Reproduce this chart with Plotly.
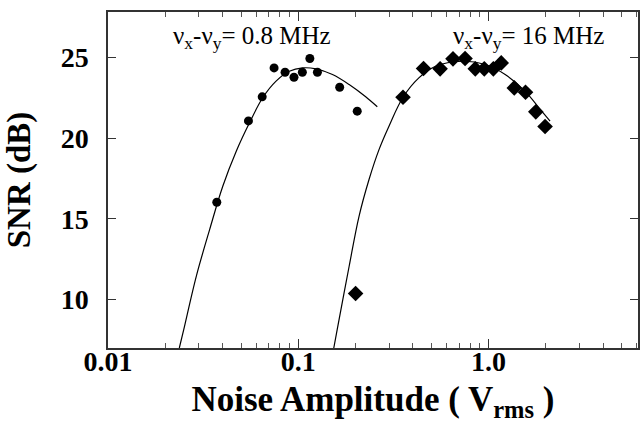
import plotly.graph_objects as go

# ---- data ----
# nu_x - nu_y = 0.8 MHz (circles)
amp_08 = [0.0373, 0.0547, 0.0646, 0.0746, 0.0852, 0.0949, 0.105, 0.115, 0.126, 0.165, 0.204]
snr_08 = [16.02, 21.06, 22.55, 24.34, 24.07, 23.76, 24.07, 24.92, 24.07, 23.14, 21.66]
# fitted curve for 0.8 MHz
fit_amp_08 = [0.0237, 0.0250, 0.0291, 0.0342, 0.0401, 0.0472, 0.0554, 0.0650, 0.0764,
              0.0897, 0.1054, 0.1238, 0.1512, 0.185, 0.226, 0.260]
fit_snr_08 = [7.0, 8.14, 11.44, 14.33, 17.01, 19.18, 20.94, 22.49, 23.52,
              24.13, 24.34, 24.28, 23.93, 23.31, 22.55, 21.93]

# nu_x - nu_y = 16 MHz (diamonds)
amp_16 = [0.200, 0.355, 0.455, 0.556, 0.650, 0.752, 0.851, 0.949, 1.059, 1.165,
          1.364, 1.563, 1.77, 1.98]
snr_16 = [10.37, 22.52, 24.30, 24.28, 24.90, 24.92, 24.28, 24.28, 24.28, 24.65,
          23.10, 22.83, 21.62, 20.71]
fit_amp_16 = [0.1536, 0.1607, 0.185, 0.2085, 0.2353, 0.2655, 0.2995, 0.355, 0.430,
              0.526, 0.725, 0.961, 1.222, 1.556, 1.901, 2.104]
fit_snr_16 = [7.0, 8.24, 12.06, 15.15, 17.43, 19.28, 20.73, 22.52, 23.72,
              24.44, 24.75, 24.55, 23.93, 22.89, 21.66, 21.04]

x_major_vals = [0.01, 0.1, 1.0]
x_major_text = ["0.01", "0.1", "1.0"]
x_minor_vals = [0.02, 0.03, 0.04, 0.05, 0.06, 0.07, 0.08, 0.09,
                0.2, 0.3, 0.4, 0.5, 0.6, 0.7, 0.8, 0.9,
                2, 3, 4, 5, 6]
y_tick_vals = [10, 15, 20, 25]

label_08 = "ν<sub>x</sub>-ν<sub>y</sub>= 0.8 MHz"
label_16 = "ν<sub>x</sub>-ν<sub>y</sub>= 16 MHz"

SERIF = "Liberation Serif"

fig = go.Figure()
fig.add_trace(go.Scatter(x=fit_amp_08, y=fit_snr_08, mode="lines",
                         line=dict(color="black", width=1.2, shape="spline", smoothing=1.0),
                         showlegend=False, hoverinfo="skip"))
fig.add_trace(go.Scatter(x=fit_amp_16, y=fit_snr_16, mode="lines",
                         line=dict(color="black", width=1.2, shape="spline", smoothing=1.0),
                         showlegend=False, hoverinfo="skip"))
fig.add_trace(go.Scatter(x=amp_08, y=snr_08, mode="markers",
                         marker=dict(symbol="circle", size=9, color="black"),
                         showlegend=False))
fig.add_trace(go.Scatter(x=amp_16, y=snr_16, mode="markers",
                         marker=dict(symbol="diamond", size=12, color="black"),
                         showlegend=False))

fig.add_annotation(text=label_08, xref="paper", yref="paper", x=0.272, y=0.925,
                   showarrow=False, xanchor="center", yanchor="middle",
                   font=dict(family=SERIF, size=25, color="black"))
fig.add_annotation(text=label_16, xref="paper", yref="paper", x=0.794, y=0.925,
                   showarrow=False, xanchor="center", yanchor="middle",
                   font=dict(family=SERIF, size=25, color="black"))

fig.update_layout(
    width=642, height=423,
    margin=dict(l=108, r=2, t=12, b=75),
    paper_bgcolor="white", plot_bgcolor="white",
    font=dict(family=SERIF, color="black"),
)
fig.update_xaxes(
    type="log", range=[-2, 0.785],
    tickmode="array", tickvals=x_major_vals, ticktext=x_major_text,
    ticks="inside", ticklen=9, tickwidth=1.2, tickcolor="#333",
    minor=dict(tickmode="array", tickvals=x_minor_vals, ticks="inside",
               ticklen=5, tickwidth=1, tickcolor="#555", showgrid=False),
    showline=True, linecolor="#333", linewidth=1.5, mirror="ticks",
    showgrid=False, zeroline=False,
    tickfont=dict(family=SERIF, size=28, weight="bold", color="black"),
    ticklabelstandoff=-12,
    title=dict(text="Noise Amplitude ( V<sub>rms</sub> )", standoff=12,
               font=dict(family=SERIF, size=35, weight="bold", color="black")),
)
fig.update_yaxes(
    range=[7, 27.8],
    tickmode="array", tickvals=y_tick_vals,
    ticks="inside", ticklen=8, tickwidth=1.2, tickcolor="#333",
    showline=True, linecolor="#333", linewidth=1.5, mirror="ticks",
    showgrid=False, zeroline=False,
    tickfont=dict(family=SERIF, size=28, weight="bold", color="black"),
    ticklabelstandoff=12,
    title=dict(text="SNR (dB)", standoff=20,
               font=dict(family=SERIF, size=33, weight="bold", color="black")),
)

fig.write_html("out.html")
